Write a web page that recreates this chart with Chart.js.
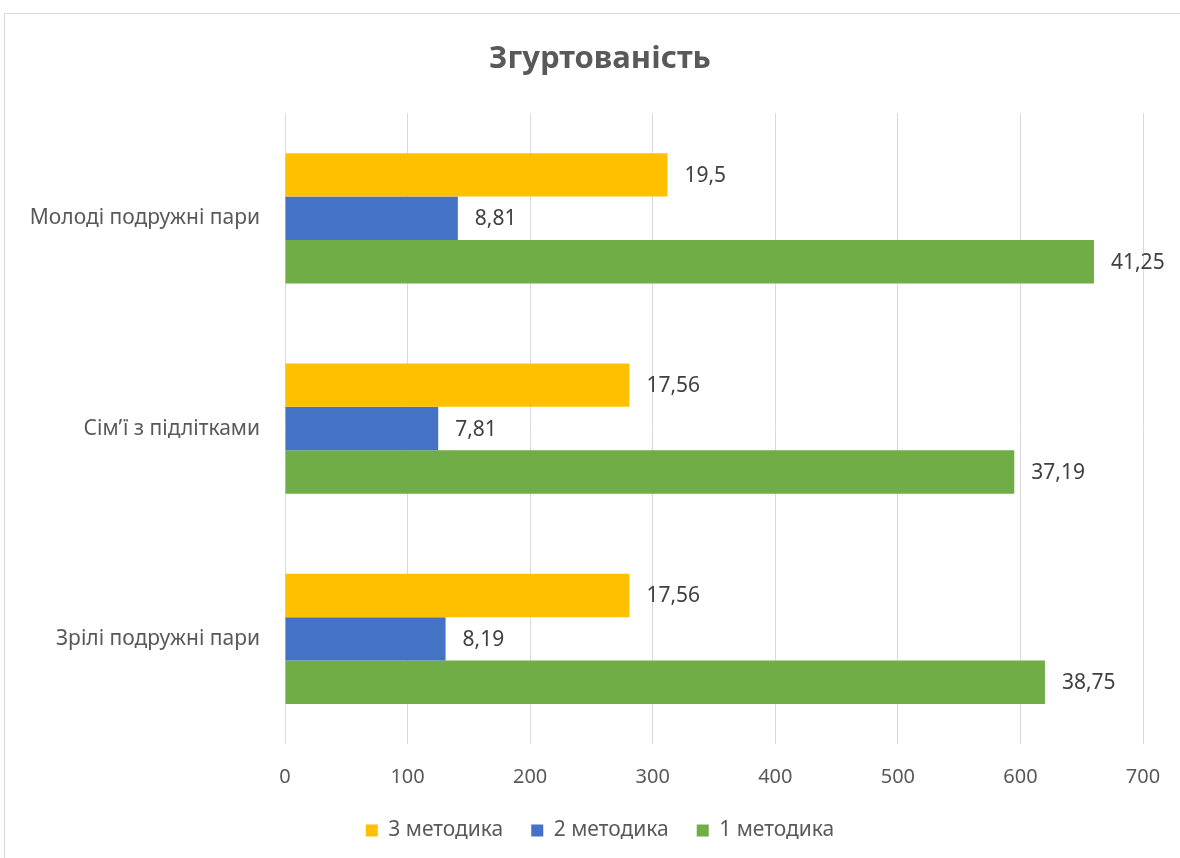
<!DOCTYPE html>
<html lang="uk">
<head>
<meta charset="utf-8">
<title>Згуртованість</title>
<script src="https://cdn.jsdelivr.net/npm/chart.js@4.4.1/dist/chart.umd.min.js"></script>
<style>
  html, body {
    margin: 0;
    padding: 0;
    background: #ffffff;
  }
  #chartBox {
    position: absolute;
    left: 4px;
    top: 13px;
    width: 1200px;
    height: 850px;
    border: 1px solid #d9d9d9;
    background: #ffffff;
  }
  #chartWrap {
    position: absolute;
    left: 0;
    top: 0;
    width: 1190px;
    height: 837px;
  }
</style>
</head>
<body>
<div id="chartBox">
  <div id="chartWrap"><canvas id="cohesionChart"></canvas></div>
</div>
<script>
const categories = ["Молоді подружні пари", "Сім’ї з підлітками", "Зрілі подружні пари"];
const seriesNames = ["3 методика", "2 методика", "1 методика"];

// bar lengths as drawn on the 0–700 axis
const method3Values = [312, 281, 281];
const method2Values = [141, 125, 131];
const method1Values = [660, 595, 620];

// texts printed next to the bars
const method3Labels = ["19,5", "17,56", "17,56"];
const method2Labels = ["8,81", "7,81", "8,19"];
const method1Labels = ["41,25", "37,19", "38,75"];

const xTicks = [0, 100, 200, 300, 400, 500, 600, 700];

const fontFamily = "'Noto Sans', 'Open Sans', sans-serif";
const textColor = "#595959";

const barLabelPlugin = {
  id: "barLabels",
  afterDatasetsDraw(chart) {
    const ctx = chart.ctx;
    ctx.save();
    ctx.font = `21px ${fontFamily}`;
    ctx.fillStyle = "#404040";
    ctx.textAlign = "left";
    ctx.textBaseline = "middle";
    chart.data.datasets.forEach((dataset, i) => {
      const meta = chart.getDatasetMeta(i);
      meta.data.forEach((bar, j) => {
        ctx.fillText(dataset.valueLabels[j], bar.x + 17, bar.y + 1);
      });
    });
    ctx.restore();
  }
};

function makeDataset(label, data, valueLabels, color) {
  return {
    label,
    data,
    valueLabels,
    backgroundColor: color,
    borderColor: color,
    borderWidth: 0,
    categoryPercentage: 0.62,
    barPercentage: 1.0
  };
}

new Chart(document.getElementById("cohesionChart"), {
  type: "bar",
  data: {
    labels: categories,
    datasets: [
      makeDataset(seriesNames[0], method3Values, method3Labels, "#ffc000"),
      makeDataset(seriesNames[1], method2Values, method2Labels, "#4472c4"),
      makeDataset(seriesNames[2], method1Values, method1Labels, "#70ad47")
    ]
  },
  options: {
    indexAxis: "y",
    responsive: true,
    maintainAspectRatio: false,
    animation: false,
    layout: {
      padding: 0
    },
    scales: {
      x: {
        min: xTicks[0],
        max: xTicks[xTicks.length - 1],
        afterBuildTicks(scale) {
          scale.ticks = xTicks.map(v => ({ value: v }));
        },
        afterFit(scale) {
          scale.height = 48;
        },
        border: { display: false },
        grid: {
          color: "#d9d9d9",
          lineWidth: 1,
          drawTicks: false
        },
        ticks: {
          padding: 21,
          color: textColor,
          font: { family: fontFamily, size: 20 }
        }
      },
      y: {
        afterFit(scale) {
          scale.width = 280;
        },
        border: { display: false },
        grid: { display: false, drawTicks: false },
        ticks: {
          padding: 25,
          color: textColor,
          font: { family: fontFamily, size: 21 }
        }
      },
      // empty right-hand spacer so title and legend centre like the original
      spacer: {
        type: "category",
        position: "right",
        afterFit(scale) {
          scale.width = 52;
        },
        border: { display: false },
        grid: { display: false, drawTicks: false },
        ticks: { display: false }
      }
    },
    plugins: {
      title: {
        display: true,
        text: "Згуртованість",
        color: textColor,
        font: { family: fontFamily, size: 31, weight: "bold" },
        padding: { top: 27, bottom: 35 }
      },
      legend: {
        position: "bottom",
        labels: {
          boxWidth: 12,
          boxHeight: 12,
          padding: 28,
          color: textColor,
          font: { family: fontFamily, size: 21 }
        }
      },
      tooltip: { enabled: false }
    }
  },
  plugins: [barLabelPlugin]
});
</script>
</body>
</html>
